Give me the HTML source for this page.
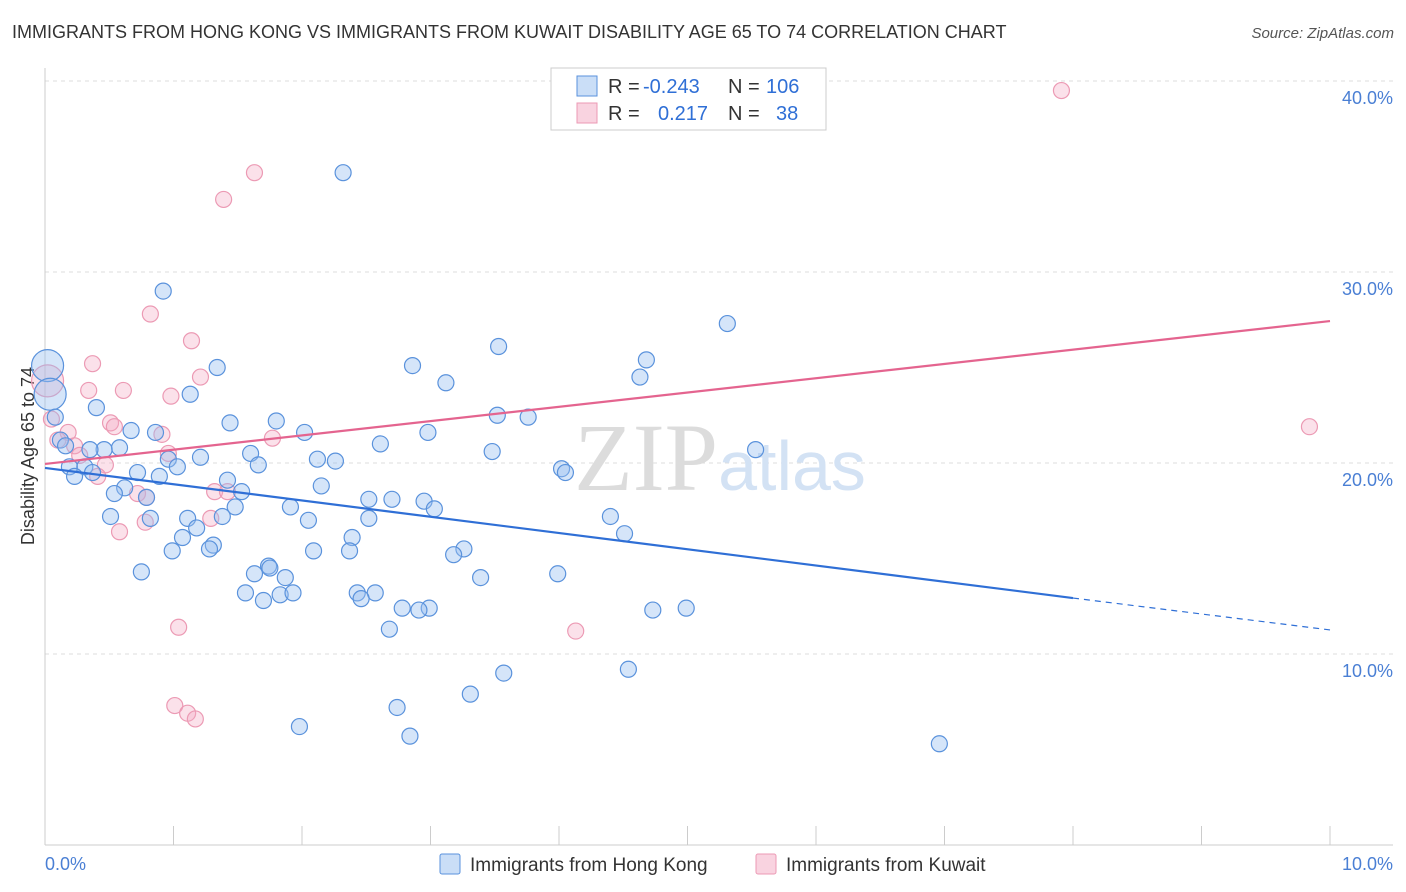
<!DOCTYPE html>
<html><head><meta charset="utf-8"><style>
body{margin:0;background:#fff;font-family:"Liberation Sans",sans-serif;}
#wrap{position:relative;width:1406px;height:892px;overflow:hidden;}
.t{position:absolute;white-space:nowrap;}
</style></head><body>
<div id="wrap">
<div class="t" style="left:12px;top:22px;font-size:18px;color:#333;">IMMIGRANTS FROM HONG KONG VS IMMIGRANTS FROM KUWAIT DISABILITY AGE 65 TO 74 CORRELATION CHART</div>
<div class="t" style="right:12px;top:25px;font-size:15px;color:#555;font-style:italic;">Source: ZipAtlas.com</div>
<svg id="svg" width="1406" height="892" style="position:absolute;left:0;top:0"></svg>
</div>
<script>
const blueX=[2.32,0.92,5.31,3.53,4.68,2.86,1.34,0.02,4.63,3.12,1.13,0.04,0.40,0.08,3.52,3.76,1.44,1.80,0.67,0.86,2.02,2.98,0.12,0.16,2.61,0.58,0.46,0.35,3.48,5.53,1.60,1.21,0.96,2.12,2.26,1.03,1.66,0.19,0.31,4.02,4.05,0.72,0.37,0.23,0.89,1.42,0.62,2.15,1.53,0.54,0.79,2.70,2.52,2.95,1.91,1.48,3.03,0.51,0.82,1.11,1.38,2.05,2.52,4.40,1.18,4.51,1.07,2.39,1.31,1.28,0.99,2.09,2.37,3.26,3.18,0.75,1.63,1.74,1.75,1.87,3.99,3.39,1.56,2.43,2.57,1.83,1.93,2.46,1.70,2.78,2.99,2.91,4.73,4.99,2.68,4.54,3.57,3.31,2.74,1.98,2.84,6.96];
const blueY=[35.2,29.0,27.3,26.1,25.4,25.1,25.0,25.1,24.5,24.2,23.6,23.6,22.9,22.4,22.5,22.4,22.1,22.2,21.7,21.6,21.6,21.6,21.2,20.9,21.0,20.8,20.7,20.7,20.6,20.7,20.5,20.3,20.2,20.2,20.1,19.8,19.9,19.8,19.8,19.7,19.5,19.5,19.5,19.3,19.3,19.1,18.7,18.8,18.5,18.4,18.2,18.1,18.1,18.0,17.7,17.7,17.6,17.2,17.1,17.1,17.2,17.0,17.1,17.2,16.6,16.3,16.1,16.1,15.7,15.5,15.4,15.4,15.4,15.5,15.2,14.3,14.2,14.6,14.5,14.0,14.2,14.0,13.2,13.2,13.2,13.1,13.2,12.9,12.8,12.4,12.4,12.3,12.3,12.4,11.3,9.2,9.0,7.9,7.2,6.2,5.7,5.3];
const blueBig=[7,11];
const pinkX=[7.91,1.63,1.39,0.82,1.14,0.37,0.02,1.21,0.34,0.61,0.98,0.05,0.51,0.54,9.84,0.18,0.91,1.77,0.10,0.23,0.96,0.27,0.47,0.41,1.32,1.42,0.72,0.79,1.29,0.78,0.58,1.04,4.13,1.01,1.11,1.17];
const pinkY=[39.5,35.2,33.8,27.8,26.4,25.2,24.3,24.5,23.8,23.8,23.5,22.3,22.1,21.9,21.9,21.6,21.5,21.3,21.2,20.9,20.5,20.4,19.9,19.3,18.5,18.5,18.4,18.2,17.1,16.9,16.4,11.4,11.2,7.3,6.9,6.6];
const pinkBig=[6];
const blueTrendX=[0,8.0,10];
const blueTrendY=[19.74,12.93,11.26];
const pinkTrendX=[0,10];
const pinkTrendY=[19.95,27.43];
const yTicks=[10,20,30,40];
const xTickLabels=["0.0%","10.0%"];

const svg=document.getElementById('svg');
const NS='http://www.w3.org/2000/svg';
const X0=45,X1=1330,Y0=845,PXPER=19.1;
const sx=v=>X0+(X1-X0)*v/10;
const sy=v=>Y0-v*PXPER;
function mk(tag,attrs){const e=document.createElementNS(NS,tag);for(const k in attrs)e.setAttribute(k,attrs[k]);svg.appendChild(e);return e;}

yTicks.forEach(t=>{
 const g=mk('line',{x1:45,x2:1393,y1:sy(t),y2:sy(t),stroke:'#ddd','stroke-dasharray':'4,4'});
 
 
 const tx=mk('text',{x:1393,y:sy(t)+23,'text-anchor':'end','font-size':18,fill:'#4a7fd4','font-family':'Liberation Sans'});
 tx.textContent=t.toFixed(1)+'%';
 
 
});
const ax=mk('line',{x1:45,x2:45,y1:68,y2:845,stroke:'#ccc'});


const bx=mk('line',{x1:45,x2:1393,y1:845,y2:845,stroke:'#ccc'});


for(let i=0;i<=10;i++){
 const tk=mk('line',{x1:sx(i),x2:sx(i),y1:826,y2:845,stroke:'#ccc'});
 
 
}
const xl0=mk('text',{x:45,y:870,'font-size':18,fill:'#4a7fd4','font-family':'Liberation Sans'});
xl0.textContent=xTickLabels[0];


const xl1=mk('text',{x:1393,y:870,'text-anchor':'end','font-size':18,fill:'#4a7fd4','font-family':'Liberation Sans'});
xl1.textContent=xTickLabels[1];


const yt=mk('text',{x:34,y:456,'text-anchor':'middle','font-size':18,fill:'#333',transform:'rotate(-90 34 456)','font-family':'Liberation Sans'});
yt.textContent='Disability Age 65 to 74';


const wm=mk('text',{x:720,y:490,'text-anchor':'middle','font-size':96,fill:'#e6ecf3','font-family':'Liberation Serif'});
wm.innerHTML='<tspan fill="#dcdcdc">ZIP</tspan><tspan font-family="Liberation Sans" font-size="70" fill="#d3e2f4">atlas</tspan>';



pinkX.forEach((v,i)=>{
 const c=mk('circle',{cx:sx(v),cy:sy(pinkY[i]),r:pinkBig.includes(i)?16:8,fill:'rgba(244,168,194,0.35)',stroke:'#ec9ab4','stroke-width':1.2});
 
 
});
blueX.forEach((v,i)=>{
 const c=mk('circle',{cx:sx(v),cy:sy(blueY[i]),r:blueBig.includes(i)?16:8,fill:'rgba(150,190,240,0.4)',stroke:'#5a92dc','stroke-width':1.2});
 
 
});
const b1=mk('line',{x1:sx(blueTrendX[0]),y1:sy(blueTrendY[0]),x2:sx(blueTrendX[1]),y2:sy(blueTrendY[1]),stroke:'#2f6fd6','stroke-width':2.2});


const b2=mk('line',{x1:sx(blueTrendX[1]),y1:sy(blueTrendY[1]),x2:sx(blueTrendX[2]),y2:sy(blueTrendY[2]),stroke:'#2f6fd6','stroke-width':1.2,'stroke-dasharray':'6,5'});


const p1=mk('line',{x1:sx(pinkTrendX[0]),y1:sy(pinkTrendY[0]),x2:sx(pinkTrendX[1]),y2:sy(pinkTrendY[1]),stroke:'#e4648f','stroke-width':2.2});



// legend box
const lb=mk('rect',{x:551,y:68,width:275,height:62,fill:'#fff',stroke:'#ccc'});


const rows=[[86,'rgba(150,190,240,0.5)','#5a92dc','-0.243','106'],[113,'rgba(244,168,194,0.5)','#ec9ab4','0.217','38']];
rows.forEach((r,i)=>{
 const s=mk('rect',{x:577,y:r[0]-10,width:20,height:20,fill:r[1],stroke:r[2]});
 
 
 const t=mk('text',{x:608,y:r[0]+7,'font-size':20,fill:'#333','font-family':'Liberation Sans'});
 t.innerHTML='R = <tspan x="'+(i?658:643)+'" fill="#2f6fd6">'+r[3]+'</tspan><tspan x="728" fill="#333">N =</tspan><tspan x="'+(i?776:766)+'" fill="#2f6fd6">'+r[4]+'</tspan>';
 
 
});
// bottom legend
[[440,'rgba(150,190,240,0.5)','#5a92dc','Immigrants from Hong Kong'],[756,'rgba(244,168,194,0.5)','#ec9ab4','Immigrants from Kuwait']].forEach(l=>{
 const s=mk('rect',{x:l[0],y:854,width:20,height:20,fill:l[1],stroke:l[2],rx:2});
 
 
 const t=mk('text',{x:l[0]+30,y:871,'font-size':19,fill:'#333','font-family':'Liberation Sans'});
 t.textContent=l[3];
 
 
});
</script>
</body></html>
